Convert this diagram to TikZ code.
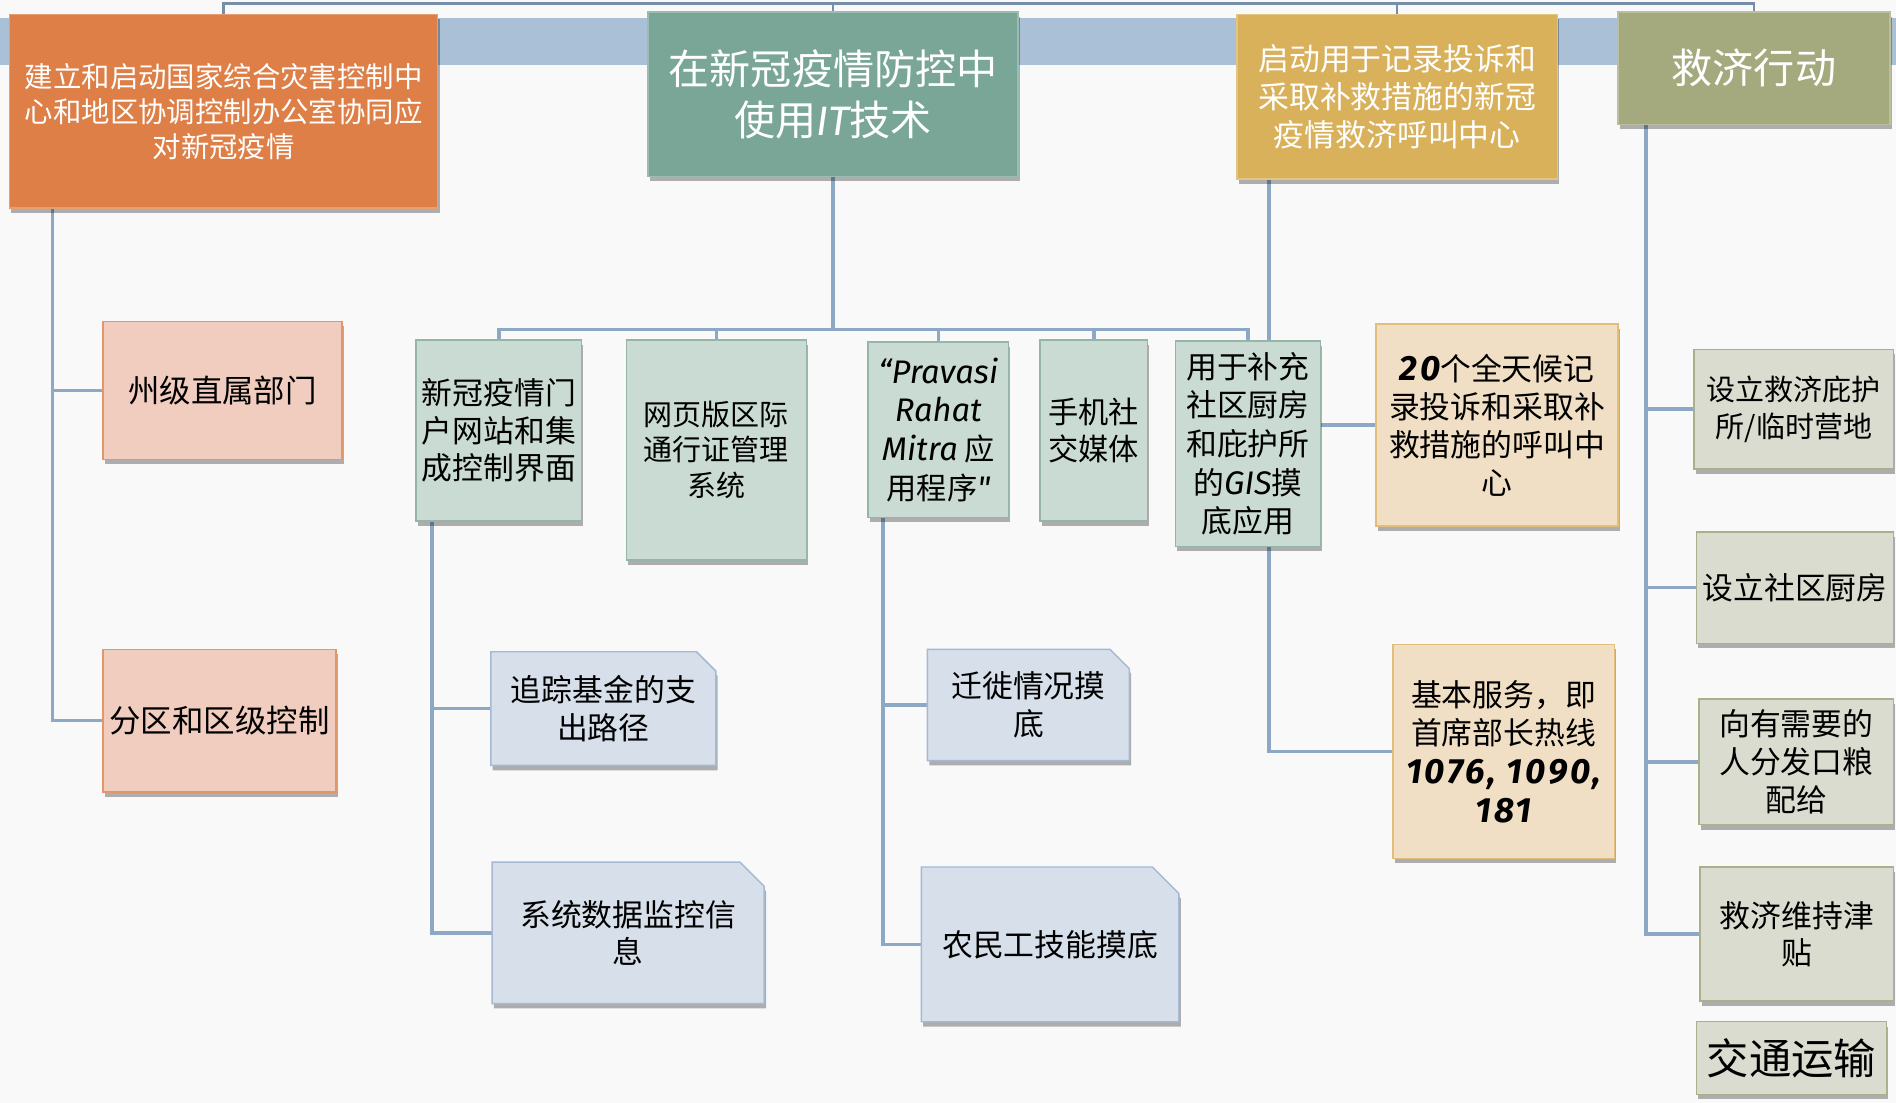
\documentclass[tikz,border=0pt]{standalone}
\usepackage{fontspec}
\setmainfont{Noto Sans CJK SC}
\newfontfamily\latf{Fira Sans}
\usetikzlibrary{shadows,calc}
\pgfdeclarelayer{back}\pgfdeclarelayer{lines}
\pgfsetlayers{back,lines,main}
\definecolor{bgc}{RGB}{249,249,249}
\definecolor{bandc}{RGB}{170,192,215}
\definecolor{linec}{RGB}{140,168,196}
\definecolor{toplinec}{RGB}{118,142,168}
\definecolor{orangef}{RGB}{221,127,70}
\definecolor{tealf}{RGB}{122,166,152}
\definecolor{yellowf}{RGB}{217,177,90}
\definecolor{olivef}{RGB}{164,170,126}
\definecolor{pinkf}{RGB}{240,205,190}
\definecolor{pinkd}{RGB}{226,150,110}
\definecolor{mintf}{RGB}{202,219,211}
\definecolor{mintd}{RGB}{150,180,168}
\definecolor{creamf}{RGB}{240,223,196}
\definecolor{creamd}{RGB}{226,190,120}
\definecolor{sagef}{RGB}{218,220,207}
\definecolor{saged}{RGB}{170,176,140}
\definecolor{bluef}{RGB}{214,223,234}
\definecolor{blued}{RGB}{165,185,212}
\newcommand\fs[2]{\fontsize{#1pt}{#2pt}\selectfont}
\newcommand\lt[1]{{\latf\itshape\fontsize{27pt}{32pt}\selectfont #1}}
\newcommand\nb[1]{{\latf\bfseries\itshape\fontsize{29pt}{32pt}\selectfont\addfontfeature{LetterSpace=8}#1}}
\newcommand\mybox[9]{%
 \pgfmathsetmacro\bxw{#4-#2}\pgfmathsetmacro\bxh{#5-#3}%
 \node[#6, font=\fs{#7}{#8}, minimum width=\bxw pt, minimum height=\bxh pt] (#1) at ({(#2+#4)/2},{(#3+#5)/2}) {#9};}
\newcommand\chbox[9]{%
 \pgfmathsetmacro\bxw{#4-#2}\pgfmathsetmacro\bxh{#5-#3}%
 \draw[snipbox] (#2,#3) -- ({#4-#6},#3) -- (#4,{#3+#6}) -- (#4,#5) -- (#2,#5) -- cycle;
 \node[boxtext, font=\fs{#7}{#8}, minimum width=\bxw pt, minimum height=\bxh pt] (#1) at ({(#2+#4)/2},{(#3+#5)/2}) {#9};}
\tikzset{
 shad/.style={drop shadow={shadow xshift=1.5pt, shadow yshift=-4pt, opacity=0.3, fill=black}},
 boxtext/.style={rectangle, inner sep=1pt, align=center, text=black},
 box/.style={boxtext, line width=1.2pt, shad},
 topbox/.style={box, fill=#1, draw=#1!75!white, text=white},
 pinkbox/.style={box, fill=pinkf, draw=pinkd},
 mintbox/.style={box, fill=mintf, draw=mintd},
 creambox/.style={box, fill=creamf, draw=creamd},
 sagebox/.style={box, fill=sagef, draw=saged},
 snipbox/.style={fill=bluef, draw=blued, line width=1.2pt, shad},
 conn/.style={draw=linec, line width=3pt},
 topconn/.style={draw=toplinec, line width=2pt}
}
\begin{document}
\begin{tikzpicture}[x=1pt,y=-1pt]
\useasboundingbox (0,0) rectangle (1568,912);
\begin{pgfonlayer}{back}
\fill[bgc] (0,0) rectangle (1568,912);
\fill[bandc] (0,15) rectangle (1568,54);
\end{pgfonlayer}
% top level
\mybox{A}{8}{12}{362}{172}{topbox=orangef}{23.5}{29}{建立和启动国家综合灾害控制中\\心和地区协调控制办公室协同应\\对新冠疫情}
\mybox{B}{536}{10}{842}{146}{topbox=tealf}{34}{42}{在新冠疫情防控中\\使用{\latf\itshape IT}技术}
\mybox{C}{1023}{12}{1288}{148}{topbox=yellowf}{25.5}{31.5}{启动用于记录投诉和\\采取补救措施的新冠\\疫情救济呼叫中心}
\mybox{D}{1338}{10}{1563}{103}{topbox=olivef}{34}{42}{救济行动}
% left
\mybox{E}{85}{266}{283}{380}{pinkbox}{26}{31}{州级直属部门}
\mybox{F}{85}{537}{278}{655}{pinkbox}{26}{31}{分区和区级控制}
% IT
\mybox{G}{344}{281}{481}{431}{mintbox}{25.5}{31}{新冠疫情门\\户网站和集\\成控制界面}
\mybox{H}{518}{281}{667}{463}{mintbox}{24}{29.5}{网页版区际\\通行证管理\\系统}
\mybox{I}{718}{283}{834}{428}{mintbox}{25}{32}{\lt{“Pravasi}\\\lt{Rahat}\\\lt{Mitra} 应\\用程序\lt{\symbol{34}}}
\mybox{J}{860}{281}{949}{431}{mintbox}{25}{31}{手机社\\交媒体}
\mybox{K}{972}{282}{1092}{452}{mintbox}{25.5}{32}{用于补充\\社区厨房\\和庇护所\\的\lt{GIS}摸\\底应用}
% call centre
\mybox{L}{1138}{268}{1338}{435}{creambox}{25.5}{31.5}{\nb{20}个全天候记\\录投诉和采取补\\救措施的呼叫中\\心}
\mybox{M}{1152}{533}{1335}{710}{creambox}{25.5}{32}{基本服务，即\\首席部长热线\\\nb{1076, 1090,}\\\nb{181}}
% relief
\mybox{N}{1401}{289}{1566}{388}{sagebox}{24}{31}{设立救济庇护\\所/临时营地}
\mybox{O}{1403}{440}{1566}{532}{sagebox}{25.5}{31}{设立社区厨房}
\mybox{P}{1405}{578}{1566}{682}{sagebox}{25.5}{31.5}{向有需要的\\人分发口粮\\配给}
\mybox{Q}{1406}{717}{1566}{828}{sagebox}{25.5}{31}{救济维持津\\贴}
\mybox{R}{1403}{845}{1560}{905}{sagebox}{35}{40}{交通运输}
% snipped
\chbox{S}{406}{539}{592}{633}{16}{25.5}{32}{追踪基金的支\\出路径}
\chbox{T}{407}{713}{632}{830}{20}{25.5}{31}{系统数据监控信\\息}
\chbox{U}{767}{537}{934}{629}{16}{25.5}{32}{迁徙情况摸\\底}
\chbox{V}{762}{717}{975}{845}{22}{25.5}{31}{农民工技能摸底}
% connectors
\begin{pgfonlayer}{lines}
\coordinate (topy) at (0,3);
\draw[topconn] (A.north) |- (D.north |- topy) -- (D.north);
\draw[topconn] (B.north) -- (B.north |- topy);
\draw[topconn] (C.north) -- (C.north |- topy);
\draw[conn] ([xshift=36pt]A.south west) |- (E.west);
\draw[conn] ([xshift=36pt]A.south west) |- (F.west);
\coordinate (bus) at ($(B.south)+(0,126)$);
\draw[conn] (B.south) -- (bus);
\draw[conn] (bus) -| (G.north);
\draw[conn] (bus) -| (H.north);
\draw[conn] (bus) -| (I.north);
\draw[conn] (bus) -| (J.north);
\draw[conn] (bus) -| (K.north);
\draw[conn] ([xshift=27pt]C.south west) |- (L.west);
\draw[conn] ([xshift=27pt]C.south west) |- (M.west);
\draw[conn] ([xshift=24pt]D.south west) |- (N.west);
\draw[conn] ([xshift=24pt]D.south west) |- (O.west);
\draw[conn] ([xshift=24pt]D.south west) |- (P.west);
\draw[conn] ([xshift=24pt]D.south west) |- (Q.west);
\draw[conn] ([xshift=14pt]G.south west) |- (S.west);
\draw[conn] ([xshift=14pt]G.south west) |- (T.west);
\draw[conn] ([xshift=13pt]I.south west) |- (U.west);
\draw[conn] ([xshift=13pt]I.south west) |- (V.west);
\end{pgfonlayer}
\end{tikzpicture}
\end{document}
